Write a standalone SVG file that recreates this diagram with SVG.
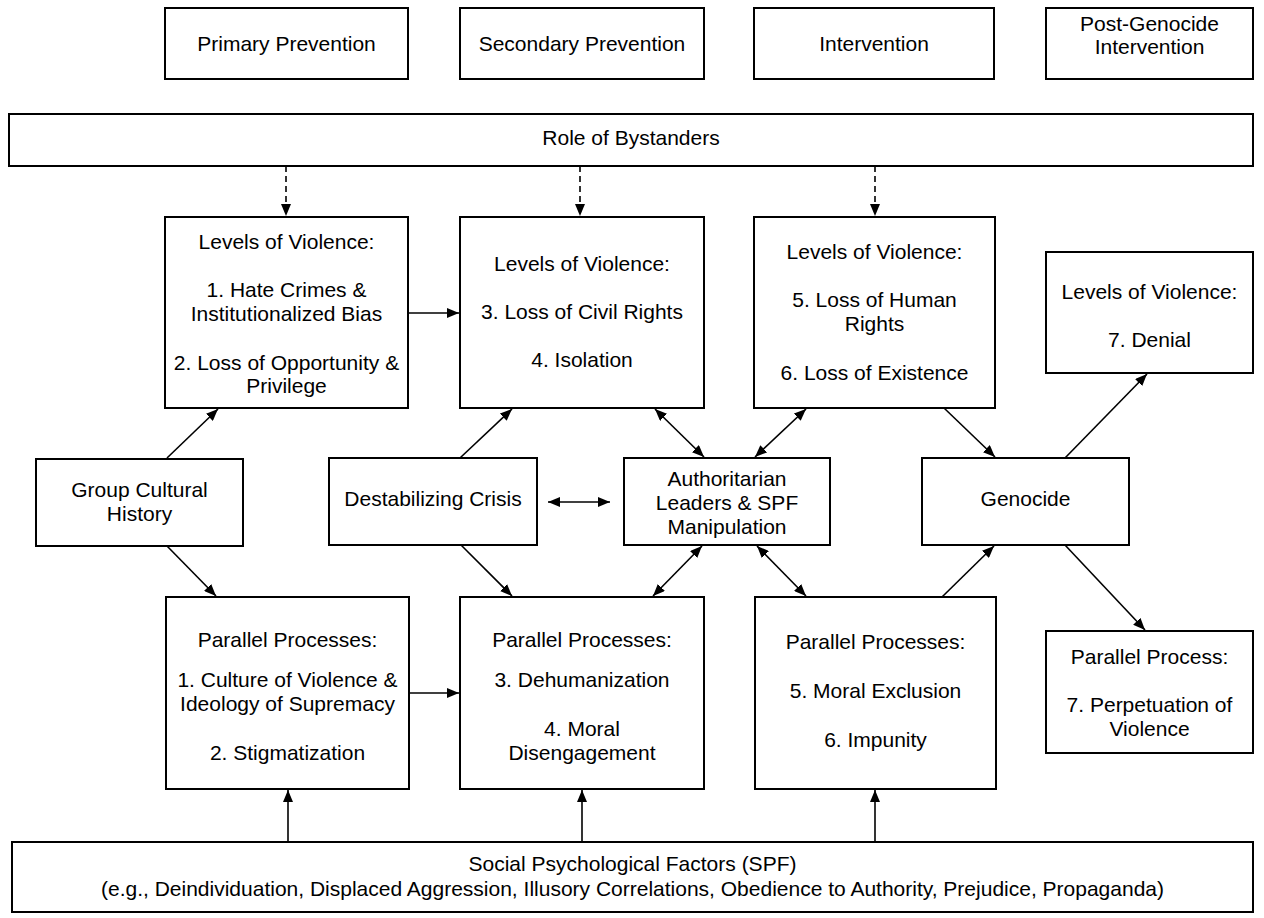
<svg xmlns="http://www.w3.org/2000/svg" width="1264" height="918" viewBox="0 0 1264 918">
<style>
.box{fill:#fff;stroke:#000;stroke-width:2}
.t{font-family:"Liberation Sans",Arial,sans-serif;font-size:21px;fill:#000;text-anchor:middle}
.c{stroke:#000;stroke-width:1.6;fill:none}
.one{marker-end:url(#ah)}
.two{marker-end:url(#ah);marker-start:url(#ah)}
.dash{stroke-dasharray:6 4}
</style>
<defs>
<marker id="ah" viewBox="0 0 12 10" refX="12" refY="5" markerWidth="12" markerHeight="10" markerUnits="userSpaceOnUse" orient="auto-start-reverse">
<path d="M0,0 L12,5 L0,10 z" fill="#000"/>
</marker>
</defs>
<rect width="1264" height="918" fill="#fff"/>

<g id="primary"><rect class="box" x="165" y="8" width="243" height="71"/><text class="t" x="286.5" y="51">Primary Prevention</text></g>
<g id="secondary"><rect class="box" x="460" y="8" width="244" height="71"/><text class="t" x="582" y="51">Secondary Prevention</text></g>
<g id="intervention"><rect class="box" x="754" y="8" width="240" height="71"/><text class="t" x="874" y="51">Intervention</text></g>
<g id="postgenocide"><rect class="box" x="1046" y="8" width="207" height="71"/><text class="t" x="1149.5" y="31">Post-Genocide</text><text class="t" x="1149.5" y="54">Intervention</text></g>

<g id="bystanders"><rect class="box" x="9" y="114" width="1244" height="52"/><text class="t" x="631" y="145">Role of Bystanders</text></g>

<g id="lv1"><rect class="box" x="165" y="217" width="243" height="191"/>
<text class="t" x="286.5" y="249">Levels of Violence:</text>
<text class="t" x="286.5" y="297">1. Hate Crimes &amp;</text>
<text class="t" x="286.5" y="321">Institutionalized Bias</text>
<text class="t" x="286.5" y="370">2. Loss of Opportunity &amp;</text>
<text class="t" x="286.5" y="393">Privilege</text></g>
<g id="lv2"><rect class="box" x="460" y="217" width="244" height="191"/>
<text class="t" x="582" y="271">Levels of Violence:</text>
<text class="t" x="582" y="319">3. Loss of Civil Rights</text>
<text class="t" x="582" y="367">4. Isolation</text></g>
<g id="lv3"><rect class="box" x="754" y="217" width="241" height="191"/>
<text class="t" x="874.5" y="259">Levels of Violence:</text>
<text class="t" x="874.5" y="307">5. Loss of Human</text>
<text class="t" x="874.5" y="331">Rights</text>
<text class="t" x="874.5" y="380">6. Loss of Existence</text></g>
<g id="lv4"><rect class="box" x="1046" y="252" width="207" height="121"/>
<text class="t" x="1149.5" y="299">Levels of Violence:</text>
<text class="t" x="1149.5" y="347">7. Denial</text></g>

<g id="gch"><rect class="box" x="36" y="459" width="207" height="87"/>
<text class="t" x="139.5" y="497">Group Cultural</text>
<text class="t" x="139.5" y="521">History</text></g>
<g id="crisis"><rect class="box" x="329" y="458" width="208" height="87"/>
<text class="t" x="433" y="506">Destabilizing Crisis</text></g>
<g id="auth"><rect class="box" x="624" y="458" width="206" height="87"/>
<text class="t" x="727" y="486">Authoritarian</text>
<text class="t" x="727" y="510">Leaders &amp; SPF</text>
<text class="t" x="727" y="534">Manipulation</text></g>
<g id="genocide"><rect class="box" x="922" y="458" width="207" height="87"/>
<text class="t" x="1025.5" y="506">Genocide</text></g>

<g id="pp1"><rect class="box" x="166" y="597" width="243" height="192"/>
<text class="t" x="287.5" y="647">Parallel Processes:</text>
<text class="t" x="287.5" y="687">1. Culture of Violence &amp;</text>
<text class="t" x="287.5" y="711">Ideology of Supremacy</text>
<text class="t" x="287.5" y="760">2. Stigmatization</text></g>
<g id="pp2"><rect class="box" x="460" y="597" width="244" height="192"/>
<text class="t" x="582" y="647">Parallel Processes:</text>
<text class="t" x="582" y="687">3. Dehumanization</text>
<text class="t" x="582" y="736">4. Moral</text>
<text class="t" x="582" y="760">Disengagement</text></g>
<g id="pp3"><rect class="box" x="755" y="597" width="241" height="192"/>
<text class="t" x="875.5" y="649">Parallel Processes:</text>
<text class="t" x="875.5" y="698">5. Moral Exclusion</text>
<text class="t" x="875.5" y="747">6. Impunity</text></g>
<g id="pp4"><rect class="box" x="1046" y="631" width="207" height="122"/>
<text class="t" x="1149.5" y="664">Parallel Process:</text>
<text class="t" x="1149.5" y="712">7. Perpetuation of</text>
<text class="t" x="1149.5" y="736">Violence</text></g>

<g id="spf"><rect class="box" x="12" y="842" width="1241" height="70"/>
<text class="t" x="632.5" y="871">Social Psychological Factors (SPF)</text>
<text class="t" x="632.5" y="896">(e.g., Deindividuation, Displaced Aggression, Illusory Correlations, Obedience to Authority, Prejudice, Propaganda)</text></g>

<g id="connectors">
<line class="c one dash" x1="286" y1="166" x2="286" y2="216"/>
<line class="c one dash" x1="580" y1="166" x2="580" y2="216"/>
<line class="c one dash" x1="875" y1="166" x2="875" y2="216"/>
<line class="c one" x1="408" y1="313" x2="459" y2="313"/>
<line class="c one" x1="409" y1="693" x2="459" y2="693"/>
<line class="c one" x1="167" y1="458" x2="218" y2="409"/>
<line class="c one" x1="167" y1="546" x2="216" y2="596"/>
<line class="c one" x1="460" y1="458" x2="512" y2="409"/>
<line class="c one" x1="461" y1="545" x2="512" y2="596"/>
<line class="c two" x1="548" y1="502" x2="610" y2="502"/>
<line class="c two" x1="655" y1="409" x2="704" y2="457"/>
<line class="c two" x1="806" y1="409" x2="755" y2="457"/>
<line class="c two" x1="702" y1="546" x2="653" y2="596"/>
<line class="c two" x1="757" y1="546" x2="806" y2="596"/>
<line class="c one" x1="944" y1="408" x2="995" y2="457"/>
<line class="c one" x1="1065" y1="458" x2="1147" y2="374"/>
<line class="c one" x1="942" y1="597" x2="994" y2="546"/>
<line class="c one" x1="1065" y1="545" x2="1145" y2="630"/>
<line class="c one" x1="288" y1="842" x2="288" y2="790"/>
<line class="c one" x1="582" y1="842" x2="582" y2="790"/>
<line class="c one" x1="875" y1="842" x2="875" y2="790"/>
</g>
</svg>
